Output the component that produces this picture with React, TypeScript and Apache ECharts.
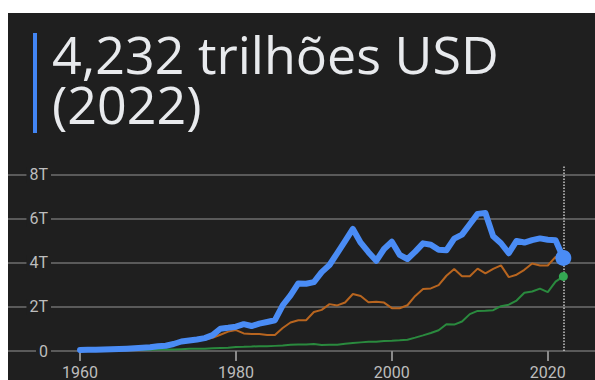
import React, { useEffect, useRef } from "react";
import * as echarts from "echarts";

// ---- Data (trillions of USD) ----
const START_YEAR = 1960;
const GERMANY_START_YEAR = 1970;
const LAST_YEAR = 2022;

const japanGDP = [
  0.044, 0.054, 0.061, 0.07, 0.082, 0.091, 0.106, 0.124, 0.147, 0.172,
  0.213, 0.24, 0.318, 0.432, 0.479, 0.522, 0.585, 0.721, 1.014, 1.055,
  1.105, 1.218, 1.135, 1.243, 1.318, 1.399, 2.079, 2.532, 3.072, 3.055,
  3.133, 3.584, 3.909, 4.454, 4.998, 5.546, 4.923, 4.492, 4.098, 4.636,
  4.968, 4.374, 4.182, 4.52, 4.893, 4.831, 4.602, 4.579, 5.106, 5.289,
  5.759, 6.233, 6.272, 5.212, 4.897, 4.445, 5.004, 4.931, 5.041, 5.118,
  5.055, 5.034, 4.232,
];

const germanyGDP = [
  0.216, 0.25, 0.3, 0.398, 0.445, 0.489, 0.519, 0.6, 0.74, 0.881,
  0.95, 0.8, 0.776, 0.77, 0.725, 0.732, 1.046, 1.298, 1.401, 1.398,
  1.772, 1.869, 2.131, 2.071, 2.206, 2.592, 2.503, 2.219, 2.241, 2.2,
  1.948, 1.945, 2.079, 2.505, 2.815, 2.846, 2.993, 3.421, 3.73, 3.398,
  3.396, 3.744, 3.527, 3.733, 3.89, 3.357, 3.468, 3.69, 3.975, 3.889,
  3.887, 4.278, 4.082,
];

const indiaGDP = [
  0.037, 0.039, 0.042, 0.049, 0.056, 0.059, 0.046, 0.05, 0.053, 0.058,
  0.063, 0.067, 0.071, 0.085, 0.099, 0.098, 0.103, 0.121, 0.137, 0.153,
  0.186, 0.193, 0.201, 0.218, 0.212, 0.233, 0.249, 0.279, 0.296, 0.296,
  0.321, 0.27, 0.288, 0.279, 0.327, 0.36, 0.392, 0.415, 0.421, 0.458,
  0.468, 0.485, 0.515, 0.608, 0.709, 0.82, 0.94, 1.217, 1.199, 1.342,
  1.676, 1.823, 1.828, 1.857, 2.039, 2.104, 2.295, 2.651, 2.703, 2.836,
  2.672, 3.15, 3.39,
];

const xTickYears = [1960, 1980, 2000, 2020];
const yTickValues = [0, 2, 4, 6, 8];
const titleLine1 = "4,232 trilhões USD";
const titleLine2 = "(2022)";

// axis extents (years / trillions)
const X_MIN = 1950.76;
const X_MAX = 2026.06;
const Y_MAX = 8.4545;

const toPairs = (start: number, arr: number[]) => arr.map((v, i) => [start + i, v]);

const BG = "#1f1f1f";
const LABEL_COLOR = "#bdbdbd";
const BLUE = "#4a8cf5";

export default function App() {
  const ref = useRef<HTMLDivElement>(null);

  useEffect(() => {
    if (!ref.current) return;
    const chart = echarts.init(ref.current, null, { renderer: "svg" });

    const japan = toPairs(START_YEAR, japanGDP);
    const germany = toPairs(GERMANY_START_YEAR, germanyGDP);
    const india = toPairs(START_YEAR, indiaGDP);

    const yLabel = (v: number) =>
      yTickValues.includes(v) ? (v === 0 ? "0" : `${v}T`) : "";

    const titleStyle = {
      font: '52px "Open Sans"',
      fill: "#e8eaed",
      lineHeight: 48,
      verticalAlign: "middle",
    };

    chart.setOption({
      animation: false,
      backgroundColor: BG,
      grid: {
        left: 0,
        right: 0,
        top: 152,
        bottom: 29,
        containLabel: false,
        outerBoundsMode: "none",
      },
      xAxis: {
        type: "value",
        min: X_MIN,
        max: X_MAX,
        axisLine: { show: false },
        splitLine: { show: false },
        axisTick: {
          show: true,
          customValues: xTickYears,
          length: 10,
          lineStyle: { color: "#8a8a8a", width: 2 },
        },
        axisLabel: {
          customValues: xTickYears,
          color: LABEL_COLOR,
          fontSize: 16,
          fontFamily: "Roboto",
          margin: 13,
          formatter: (v: number) => String(Math.round(v)),
        },
      },
      yAxis: [
        {
          type: "value",
          min: 0,
          max: Y_MAX,
          interval: 2,
          position: "left",
          axisLine: { show: false },
          axisTick: { show: false },
          axisLabel: { show: false },
          splitLine: {
            show: true,
            showMaxLine: false,
            lineStyle: {
              color: ["#5a5a5a", "#5a5a5a", "#5a5a5a", "#5a5a5a", "#5a5a5a", "rgba(0,0,0,0)"],
              width: 2,
            },
          },
        },
        {
          type: "value",
          min: 0,
          max: Y_MAX,
          interval: 2,
          position: "left",
          z: 5,
          axisLine: { show: false },
          axisTick: { show: false },
          splitLine: { show: false },
          axisLabel: {
            inside: true,
            align: "right",
            margin: 43,
            showMaxLabel: false,
            color: LABEL_COLOR,
            fontSize: 16,
            fontFamily: "Roboto",
            backgroundColor: BG,
            padding: [0, 3],
            formatter: yLabel,
          },
        },
      ],
      graphic: [
        {
          type: "rect",
          shape: { x: 25, y: 20, width: 4, height: 100 },
          style: { fill: "#4285f4" },
        },
        {
          type: "text",
          x: 44,
          y: 40,
          style: { ...titleStyle, text: titleLine1 },
        },
        {
          type: "text",
          x: 44,
          y: 90,
          style: { ...titleStyle, text: titleLine2 },
        },
      ],
      series: [
        {
          type: "line",
          data: india,
          showSymbol: false,
          symbol: "none",
          lineStyle: { color: "#2a8a3e", width: 2 },
          z: 2,
        },
        {
          type: "line",
          data: germany,
          showSymbol: false,
          symbol: "none",
          lineStyle: { color: "#b8651f", width: 2 },
          z: 3,
        },
        {
          type: "line",
          data: japan,
          showSymbol: false,
          symbol: "none",
          lineStyle: { color: BLUE, width: 6, join: "round", cap: "round" },
          z: 4,
          markLine: {
            silent: true,
            symbol: ["none", "none"],
            label: { show: false },
            lineStyle: { color: "#c8c8c8", type: "dotted", width: 1.5 },
            data: [{ xAxis: LAST_YEAR }],
          },
        },
        {
          type: "scatter",
          data: [india[india.length - 1]],
          symbolSize: 9,
          itemStyle: { color: "#34a853", opacity: 1 },
          z: 6,
        },
        {
          type: "scatter",
          data: [japan[japan.length - 1]],
          symbolSize: 16,
          itemStyle: { color: BLUE, opacity: 1 },
          z: 7,
        },
      ],
    });

    return () => chart.dispose();
  }, []);

  return (
    <div
      ref={ref}
      style={{ position: "absolute", left: 8, top: 13, width: 587, height: 367 }}
    />
  );
}
